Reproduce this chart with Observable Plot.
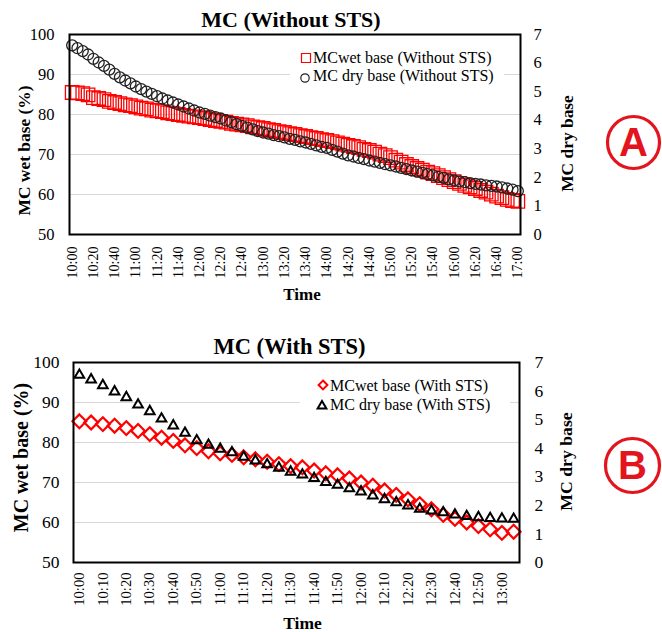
<!DOCTYPE html>
<html><head><meta charset="utf-8">
<script src="https://cdn.jsdelivr.net/npm/d3@7"></script>
<script src="https://cdn.jsdelivr.net/npm/@observablehq/plot@0.6"></script>
<style>
body{margin:0;background:#fff;}
#root{position:relative;width:662px;height:632px;overflow:hidden;background:#fff;font-family:"Liberation Serif","Times New Roman",serif;color:#000;}
#root svg{position:absolute;left:0;}
</style></head>
<body><div id="root"></div>
<script>
// ---------- DATA ----------
const timesA = ["10:00","10:05","10:10","10:15","10:20","10:25","10:30","10:35","10:40","10:45","10:50","10:55",
 "11:00","11:05","11:10","11:15","11:20","11:25","11:30","11:35","11:40","11:45","11:50","11:55",
 "12:00","12:05","12:10","12:15","12:20","12:25","12:30","12:35","12:40","12:45","12:50","12:55",
 "13:00","13:05","13:10","13:15","13:20","13:25","13:30","13:35","13:40","13:45","13:50","13:55",
 "14:00","14:05","14:10","14:15","14:20","14:25","14:30","14:35","14:40","14:45","14:50","14:55",
 "15:00","15:05","15:10","15:15","15:20","15:25","15:30","15:35","15:40","15:45","15:50","15:55",
 "16:00","16:05","16:10","16:15","16:20","16:25","16:30","16:35","16:40","16:45","16:50","16:55",
 "17:00"];
const tickLabelsA = ["10:00","10:20","10:40","11:00","11:20","11:40","12:00","12:20","12:40","13:00","13:20",
 "13:40","14:00","14:20","14:40","15:00","15:20","15:40","16:00","16:20","16:40","17:00"];
// MC wet base (%) without STS
const wetA = [85.5,85.4,85.2,84.9, 84.2,84.0,83.7,83.3, 83.0,82.7,82.4,82.2, 81.9,81.6,81.4,81.1,
 80.9,80.7,80.4,80.2, 80.0,79.8,79.6,79.4, 79.2,79.0,78.7,78.5, 78.3,78.1,77.8,77.6,
 77.4,77.2,76.9,76.7, 76.5,76.2,76.0,75.7, 75.5,75.2,75.0,74.7, 74.5,74.2,74.0,73.7,
 73.5,73.2,72.9,72.6, 72.3,72.0,71.7,71.3, 71.0,70.6,70.1,69.7, 69.2,68.6,68.1,67.5,
 67.0,66.5,66.1,65.6, 65.2,64.7,64.2,63.7, 63.2,62.8,62.3,61.9, 61.5,61.0,60.6,60.1,
 59.6,59.2,58.8,58.5, 58.3];
// MC dry base without STS (right axis)
const dryA = [6.62,6.52,6.42,6.30, 6.15,6.02,5.90,5.77, 5.62,5.50,5.39,5.29, 5.18,5.09,5.00,4.92,
 4.84,4.76,4.69,4.62, 4.55,4.48,4.41,4.34, 4.27,4.22,4.16,4.11, 4.06,3.99,3.93,3.86,
 3.80,3.74,3.68,3.62, 3.57,3.53,3.48,3.44, 3.40,3.35,3.31,3.26, 3.22,3.17,3.12,3.07,
 3.03,2.96,2.90,2.83, 2.77,2.73,2.68,2.64, 2.59,2.55,2.51,2.46, 2.42,2.38,2.33,2.29,
 2.24,2.20,2.16,2.11, 2.07,2.02,1.98,1.93, 1.89,1.86,1.83,1.80, 1.77,1.75,1.72,1.70,
 1.68,1.65,1.61,1.57, 1.52];

const timesB = ["10:00","10:05","10:10","10:15","10:20","10:25","10:30","10:35","10:40","10:45","10:50","10:55",
 "11:00","11:05","11:10","11:15","11:20","11:25","11:30","11:35","11:40","11:45","11:50","11:55",
 "12:00","12:05","12:10","12:15","12:20","12:25","12:30","12:35","12:40","12:45","12:50","12:55",
 "13:00","13:05"];
const tickLabelsB = ["10:00","10:10","10:20","10:30","10:40","10:50","11:00","11:10","11:20","11:30",
 "11:40","11:50","12:00","12:10","12:20","12:30","12:40","12:50","13:00"];
const wetB = [85.3,85.0,84.6,84.2,83.6,82.9,82.1,81.2,80.4,79.3, 78.6,77.8,77.3,76.9,76.3,75.8,75.2,74.6,74.1,73.8,
 73.0,72.3,71.8,71.0,70.0,69.2,68.0,66.9,65.8,64.6, 63.3,61.9,60.9,60.0,59.1,58.3,57.4,57.7];
const dryB = [6.56,6.40,6.20,5.98,5.78,5.52,5.29,5.03,4.79,4.53, 4.27,4.11,3.97,3.85,3.69,3.56,3.43,3.31,3.17,3.07,
 2.95,2.81,2.71,2.59,2.48,2.34,2.21,2.10,1.99,1.87, 1.81,1.75,1.67,1.62,1.58,1.55,1.53,1.52];

const wetTicks = [50,60,70,80,90,100];
const wetGrid = [60,70,80,90];
const dryTicks = [0,1,2,3,4,5,6,7];

const titleA = "MC (Without STS)", titleB = "MC (With STS)";
const yTitleLeft = "MC wet base (%)", yTitleRight = "MC dry base", xTitle = "Time";
const legendA = ["MCwet base (Without STS)", "MC dry base (Without STS)"];
const legendB = ["MCwet base (With STS)", "MC dry base (With STS)"];

// ---------- CHART ----------
const toLeft = v => 50 + v * 50 / 7;
const fromLeft = v => String(Math.round((v - 50) * 7 / 50));
const RED = "#ff0000", BADGE = "#e3141d";
const serif = "'Liberation Serif','Times New Roman',serif";
const sans = "'Liberation Sans',Arial,sans-serif";
const C = {textAnchor: "middle", lineAnchor: "middle"};

function panel(o) {
  const data = o.times.map((t, i) => ({t, wet: o.wet[i], dry: o.dry[i]}));
  return Plot.plot({
    width: 662, height: o.height,
    marginLeft: o.left, marginRight: 662 - o.right, marginTop: 34, marginBottom: o.height - 234,
    style: {fontFamily: serif, fontSize: "16px", background: "transparent", overflow: "visible", color: "#000"},
    x: {type: "point", domain: o.times, padding: 0.5, round: false},
    y: {domain: [50, 100]},
    marks: [
      Plot.gridY(wetGrid, {stroke: "#d9d9d9", strokeOpacity: 1, strokeWidth: 1}),
      Plot.dot(data, {x: "t", y: "wet", symbol: o.wetSymbol, r: o.wetR, stroke: RED, strokeWidth: o.wetSW, fill: "none"}),
      Plot.dot(data, {x: "t", y: d => toLeft(d.dry), symbol: o.drySymbol, r: o.dryR, stroke: o.dryColor, strokeWidth: o.drySW, fill: "none"}),
      Plot.frame({stroke: "#000", strokeWidth: 2}),
      Plot.axisY(wetTicks, {anchor: "left", tickSize: 0, tickPadding: o.lpad, fontSize: o.yfs, label: null}),
      Plot.axisY(dryTicks.map(toLeft), {anchor: "right", tickSize: 0, tickPadding: o.rpad, fontSize: o.yfs, tickFormat: fromLeft, label: null}),
      Plot.axisX(o.tickLabels, {anchor: "bottom", tickSize: 0, tickPadding: o.xpad, tickRotate: -90, fontSize: o.xfs, label: null}),
      Plot.text([o.title], {...C, frameAnchor: "top", text: d => d, dx: o.titleDx, dy: o.titleDy, fontWeight: "bold", fontSize: o.titleFs}),
      Plot.text([yTitleLeft], {...C, frameAnchor: "left", text: d => d, rotate: -90, dx: o.ylDx, dy: o.ylDy, fontWeight: "bold", fontSize: o.ylFs}),
      Plot.text([yTitleRight], {...C, frameAnchor: "right", text: d => d, rotate: -90, dx: o.yrDx, dy: o.yrDy, fontWeight: "bold", fontSize: o.yrFs}),
      Plot.text([xTitle], {...C, frameAnchor: "bottom", text: d => d, dx: o.xtDx, dy: o.xtDy, fontWeight: "bold", fontSize: o.xtFs}),
      Plot.dot([o.badge], {frameAnchor: "right", dx: o.bDx, dy: o.bDy, r: o.bR, stroke: BADGE, strokeWidth: 3.2, fill: "none"}),
      Plot.text([o.badge], {...C, frameAnchor: "right", text: d => d, dx: o.bDx, dy: o.bDy + 1, fill: BADGE, fontFamily: sans, fontWeight: "bold", fontSize: 40})
    ]
  });
}

const root = document.getElementById("root");

const svgA = panel({
  times: timesA, wet: wetA, dry: dryA, tickLabels: tickLabelsA, height: 310, left: 69, right: 520,
  wetSymbol: "square", wetR: 7.6, wetSW: 1.3, drySymbol: "circle", dryR: 5.5, drySW: 1.3, dryColor: "#222",
  lpad: 15, rpad: 13, xpad: 12, yfs: 16.5, xfs: 14,
  title: titleA, titleDx: -4, titleDy: -14.5, titleFs: 22,
  ylDx: -45, ylDy: 16, ylFs: 17.4, yrDx: 47, yrDy: 9, yrFs: 17.4,
  xtDx: 7, xtDy: 60.5, xtFs: 17, badge: "A", bDx: 113, bDy: 8, bR: 26
});
svgA.style.top = "0px";
root.appendChild(svgA);

const svgB = panel({
  times: timesB, wet: wetB, dry: dryB, tickLabels: tickLabelsB, height: 304, left: 73, right: 519,
  wetSymbol: "diamond2", wetR: 6.2, wetSW: 2.2, drySymbol: "triangle2", dryR: 4.6, drySW: 2, dryColor: "#000",
  lpad: 14, rpad: 15, xpad: 10, yfs: 17.5, xfs: 14.6,
  title: titleB, titleDx: -7, titleDy: -15.7, titleFs: 22.5,
  ylDx: -52, ylDy: -5, ylFs: 20, yrDx: 46.5, yrDy: -1, yrFs: 17.7,
  xtDx: 6, xtDy: 60.7, xtFs: 17.5, badge: "B", bDx: 113, bDy: 3, bR: 27
});
svgB.style.top = "328px";
root.appendChild(svgB);

// ---------- LEGENDS ----------
function legend(o) {
  const box = document.createElement("div");
  box.style.cssText = `position:absolute;left:${o.x}px;top:${o.y}px;width:${o.w}px;height:${o.h}px;background:#fff;`;
  root.appendChild(box);
  o.items.forEach(it => {
    const s = d3.create("svg").attr("width", 20).attr("height", 20)
      .style("position", "absolute").style("left", (it.cx - 10) + "px").style("top", (it.cy - 10) + "px").style("overflow", "visible");
    s.append("path").attr("transform", "translate(10,10)").attr("d", d3.symbol(it.symbol, it.size)())
      .attr("fill", "none").attr("stroke", it.stroke).attr("stroke-width", it.sw);
    root.appendChild(s.node());
    const t = document.createElement("div");
    t.textContent = it.label;
    t.style.cssText = `position:absolute;left:${it.tx}px;top:${it.ty}px;font-size:16px;line-height:18px;white-space:nowrap;`;
    root.appendChild(t);
  });
}
legend({x: 290, y: 45, w: 214, h: 43, items: [
  {symbol: d3.symbolSquare, size: 81, stroke: RED, sw: 1.2, cx: 306, cy: 58, label: legendA[0], tx: 313, ty: 49},
  {symbol: d3.symbolCircle, size: 55, stroke: "#222", sw: 1.2, cx: 305, cy: 77.5, label: legendA[1], tx: 313, ty: 67.3}
]});
legend({x: 300, y: 372, w: 210, h: 46, items: [
  {symbol: d3.symbolDiamond2, size: 50, stroke: RED, sw: 2, cx: 322.5, cy: 385, label: legendB[0], tx: 330, ty: 377.3},
  {symbol: d3.symbolTriangle2, size: 55, stroke: "#000", sw: 2, cx: 322, cy: 405.5, label: legendB[1], tx: 330, ty: 395.6}
]});
</script>
</body></html>
